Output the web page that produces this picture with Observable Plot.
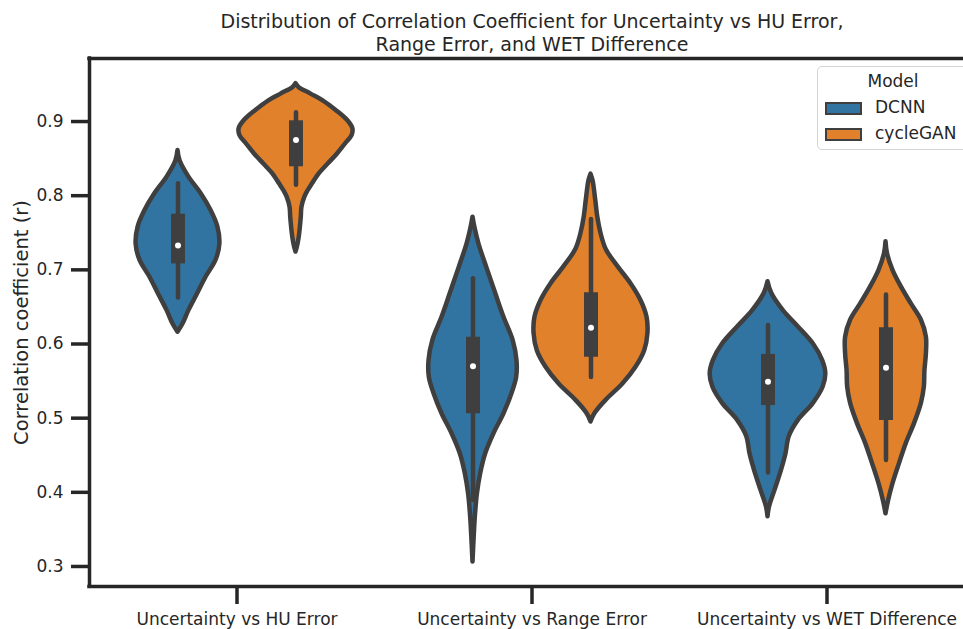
<!DOCTYPE html>
<html>
<head>
<meta charset="utf-8">
<script src="https://cdn.jsdelivr.net/npm/d3@7"></script>
<script src="https://cdn.jsdelivr.net/npm/@observablehq/plot@0.6"></script>
<style>
  html, body { margin: 0; padding: 0; background: white; overflow: hidden; }
  #chart { position: relative; width: 963px; height: 629px; font-family: "DejaVu Sans", sans-serif; color: #262626; }
  #legend { position: absolute; left: 817px; top: 66px; width: 152px; height: 84px; box-sizing: border-box;
            border: 1.5px solid #d4d4d4; border-radius: 5px; background: rgba(255,255,255,0.85); }
  #legend .ttl { position: absolute; left: 0; width: 150px; top: 4px; text-align: center; font-size: 17px; }
  #legend .sw { position: absolute; left: 7px; width: 37px; height: 13px; box-sizing: border-box; border: 2px solid #3f3f3f; }
  #legend .lb { position: absolute; left: 57px; font-size: 17px; }
</style>
</head>
<body>
<div id="chart"></div>
<script>
const title = "Distribution of Correlation Coefficient for Uncertainty vs HU Error,\nRange Error, and WET Difference";
const categories = ["Uncertainty vs HU Error", "Uncertainty vs Range Error", "Uncertainty vs WET Difference"];
const models = ["DCNN", "cycleGAN"];
const palette = ["#3274a1", "#e1812c"];
const yTicks = [0.3, 0.4, 0.5, 0.6, 0.7, 0.8, 0.9];

// Kernel density outlines: [r, half-width in category units]
const dcnnHU = [
  [0.861, 0], [0.847, 0.007], [0.825, 0.037], [0.803, 0.078], [0.780, 0.112], [0.758, 0.135],
  [0.735, 0.142], [0.713, 0.129], [0.690, 0.095], [0.668, 0.067], [0.645, 0.037], [0.627, 0.017], [0.616, 0]
];
const cycleganHU = [
  [0.951, 0], [0.946, 0.010], [0.937, 0.051], [0.928, 0.092], [0.915, 0.136], [0.901, 0.176],
  [0.890, 0.193], [0.881, 0.190], [0.870, 0.168], [0.856, 0.140], [0.843, 0.110], [0.830, 0.080],
  [0.816, 0.056], [0.806, 0.040], [0.798, 0.030], [0.784, 0.020], [0.771, 0.018], [0.758, 0.015],
  [0.744, 0.011], [0.731, 0.005], [0.724, 0]
];
const dcnnRange = [
  [0.771, 0], [0.758, 0.006], [0.735, 0.020], [0.704, 0.046], [0.668, 0.077], [0.636, 0.105],
  [0.605, 0.136], [0.578, 0.149], [0.555, 0.148], [0.533, 0.132], [0.506, 0.105], [0.479, 0.071],
  [0.452, 0.043], [0.425, 0.026], [0.398, 0.015], [0.367, 0.008], [0.335, 0.0035], [0.306, 0]
];
const cycleganRange = [
  [0.829, 0], [0.820, 0.007], [0.794, 0.016], [0.771, 0.023], [0.749, 0.034], [0.727, 0.052],
  [0.704, 0.092], [0.681, 0.136], [0.659, 0.169], [0.636, 0.190], [0.614, 0.193], [0.591, 0.182],
  [0.569, 0.153], [0.546, 0.108], [0.524, 0.051], [0.506, 0.013], [0.495, 0]
];
const dcnnWET = [
  [0.684, 0], [0.668, 0.013], [0.645, 0.052], [0.623, 0.103], [0.600, 0.154], [0.578, 0.185],
  [0.560, 0.196], [0.542, 0.187], [0.520, 0.154], [0.497, 0.103], [0.475, 0.072], [0.452, 0.061],
  [0.430, 0.046], [0.403, 0.024], [0.380, 0.005], [0.367, 0]
];
const cycleganWET = [
  [0.738, 0], [0.722, 0.005], [0.699, 0.024], [0.677, 0.052], [0.654, 0.086], [0.632, 0.120],
  [0.609, 0.137], [0.587, 0.137], [0.564, 0.132], [0.542, 0.130], [0.520, 0.120], [0.493, 0.097],
  [0.466, 0.069], [0.439, 0.046], [0.412, 0.024], [0.389, 0.009], [0.371, 0]
];

// Box summaries, one entry per violin (DCNN, cycleGAN for each category)
const whiskerLow  = [0.662, 0.814, 0.389, 0.555, 0.426, 0.443];
const quartile1   = [0.708, 0.839, 0.506, 0.582, 0.517, 0.497];
const medians     = [0.733, 0.875, 0.570, 0.622, 0.549, 0.568];
const quartile3   = [0.775, 0.901, 0.609, 0.669, 0.586, 0.622];
const whiskerHigh = [0.816, 0.912, 0.688, 0.768, 0.625, 0.666];

const profiles = [dcnnHU, cycleganHU, dcnnRange, cycleganRange, dcnnWET, cycleganWET];
const dodge = 0.2;
const violins = profiles.map((profile, k) => ({
  id: k,
  model: models[k % 2],
  center: Math.floor(k / 2) + (k % 2 ? dodge : -dodge),
  profile
}));

const outline = violins.flatMap(v => v.profile.map(([r, w]) => ({
  id: v.id, model: v.model, r, x1: v.center - w, x2: v.center + w
})));
const boxes = violins.map((v, k) => ({
  center: v.center, lo: whiskerLow[k], q1: quartile1[k], med: medians[k], q3: quartile3[k], hi: whiskerHigh[k]
}));

const yMin = 0.273, yMax = 0.985;
const ink = "#262626", edge = "#3f3f3f";

const chart = Plot.plot({
  width: 963,
  height: 629,
  marginTop: 58,
  marginRight: 0,
  marginBottom: 43,
  marginLeft: 89,
  style: { fontFamily: "DejaVu Sans", fontSize: "17px", color: ink, background: "white" },
  x: { domain: [-0.5, 2.5], range: [89, 974] },
  y: { domain: [yMin, yMax] },
  color: { domain: models, range: palette },
  marks: [
    Plot.areaX(outline, {
      y: "r", x1: "x1", x2: "x2", z: "id", fill: "model",
      stroke: edge, strokeWidth: 4.5, strokeLinejoin: "round", curve: "catmull-rom"
    }),
    Plot.ruleX(boxes, { x: "center", y1: "lo", y2: "hi", stroke: edge, strokeWidth: 4.5, strokeLinecap: "round" }),
    Plot.ruleX(boxes, { x: "center", y1: "q1", y2: "q3", stroke: edge, strokeWidth: 14 }),
    Plot.dot(boxes, { x: "center", y: "med", r: 3, fill: "white" }),
    Plot.ruleX([-0.5], { stroke: ink, strokeWidth: 3.5, strokeLinecap: "square" }),
    Plot.ruleY([yMin, yMax], { stroke: ink, strokeWidth: 3.5, strokeLinecap: "square" }),
    Plot.axisX({
      ticks: [0, 1, 2], tickFormat: i => categories[i], tickSize: 18, tickPadding: 8,
      stroke: ink, strokeWidth: 3.5, fontSize: 17, label: null
    }),
    Plot.axisY({
      ticks: yTicks, tickFormat: d3.format(".1f"), tickSize: 18, tickPadding: 8,
      stroke: ink, strokeWidth: 3.5, fontSize: 17, label: null
    }),
    Plot.axisY({
      ticks: [], tickSize: 0, fontSize: 19.5,
      label: "Correlation coefficient (r)", labelAnchor: "center", labelOffset: 75, labelArrow: false
    }),
    Plot.text([title], {
      x: 1, frameAnchor: "top", dy: -26.5, lineAnchor: "middle", lineHeight: 1.21, fontSize: 19, fill: ink
    })
  ]
});

const host = document.getElementById("chart");
host.appendChild(chart);

// Legend box in the upper right corner
const legend = document.createElement("div");
legend.id = "legend";
legend.innerHTML = `<div class="ttl">Model</div>` + models.map((m, i) =>
  `<div class="sw" style="top:${35 + i * 26}px;background:${palette[i]}"></div>` +
  `<div class="lb" style="top:${30 + i * 26}px">${m}</div>`).join("");
host.appendChild(legend);
</script>
</body>
</html>
